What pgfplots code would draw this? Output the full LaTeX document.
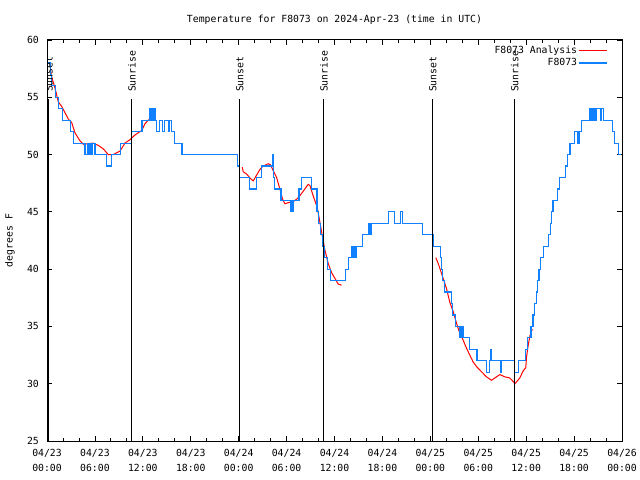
\documentclass[border=0pt]{standalone}
\usepackage{pgfplots}
\pgfplotsset{compat=1.18}
\usepackage{fontspec}
\setmainfont{DejaVu Sans Mono}
\definecolor{obsblue}{RGB}{16,128,255}
\definecolor{anared}{RGB}{255,0,0}
\begin{document}
\begin{tikzpicture}[font=\fontsize{9.8bp}{11bp}\selectfont]
\path[use as bounding box] (-47bp,-39bp) rectangle (593bp,441bp);
\begin{axis}[
  at={(0,0)}, anchor=south west, scale only axis,
  width=575bp, height=401bp,
  xmin=0, xmax=72, ymin=25, ymax=60,
  xtick={0,6,...,72}, minor x tick num=2,
  xticklabels={{04/23\\00:00},{04/23\\06:00},{04/23\\12:00},{04/23\\18:00},{04/24\\00:00},{04/24\\06:00},{04/24\\12:00},{04/24\\18:00},{04/25\\00:00},{04/25\\06:00},{04/25\\12:00},{04/25\\18:00},{04/26\\00:00}},
  ytick={25,30,...,60},
  /pgf/number format/assume math mode=true,
  axis line style={line width=1bp},
  major tick length=5bp, minor tick length=3bp,
  tick style={black, line width=0.8bp},
  xticklabel style={align=center, font=\fontsize{9.8bp}{15bp}\selectfont, inner sep=0pt, yshift=-8bp},
  yticklabel style={inner sep=0pt, xshift=-8bp},
  ylabel={degrees F},
  every axis y label/.style={at={(axis description cs:-0.0643,0.5)}, rotate=90, anchor=center},
  title={Temperature for F8073 on 2024-Apr-23 (time in UTC)},
  title style={at={(axis description cs:0.5,1)}, anchor=south, inner sep=0pt, yshift=9bp},
  legend style={at={(axis description cs:1,1)}, anchor=north east, xshift=-14bp, yshift=-4bp, draw=none, fill=none, inner sep=0pt, row sep=1bp, nodes={inner sep=1.5bp}},
  legend cell align=right, legend plot pos=right,
  legend image code/.code={\draw[#1] (0bp,0bp) -- (28bp,0bp);},
  unbounded coords=jump,
]
% Analysis (red)
\addplot[anared, line width=1bp] table {
x y
0.45 57.3
0.58 56.8
1.0 55.8
1.42 54.6
1.84 54.2
2.67 53.1
3.09 52.8
3.5 51.9
4.13 51.2
4.55 50.9
5.8 51.0
6.42 50.8
7.05 50.5
7.67 50.0
8.3 50.0
9.14 50.3
9.76 51.0
10.39 51.3
11.0 51.7
11.85 52.1
12.27 52.7
12.68 53.0
12.9 53.1
18 nan
24.45 48.9
24.57 48.5
24.99 48.3
25.49 47.9
25.82 47.7
26.24 48.2
26.66 48.7
27.07 49.0
27.70 49.2
28.0 49.1
28.32 48.6
28.75 48.0
29.16 47.0
29.5 46.1
29.79 45.7
30.2 45.8
30.83 45.9
31.25 46.1
31.66 46.4
32.08 46.8
32.7 47.4
32.92 47.3
33.33 46.4
33.83 45.4
34.17 44.1
34.5 42.8
34.79 41.7
35.21 40.5
35.63 39.7
36.05 39.2
36.46 38.7
36.88 38.6
42 nan
48.69 41.0
48.98 40.5
49.27 39.9
49.6 39.2
50.03 38.3
50.44 37.1
50.86 36.3
51.27 35.3
51.69 34.4
52.11 33.8
52.53 33.1
52.94 32.5
53.36 31.9
53.78 31.5
54.19 31.2
54.61 30.9
55.03 30.6
55.66 30.3
56.07 30.5
56.7 30.8
57.32 30.6
57.95 30.5
58.36 30.2
58.6 30.0
59.2 30.5
59.61 31.1
59.95 31.4
60.04 32.3
60.24 33.3
60.45 34.1
60.66 34.7
60.86 34.7
};
\addlegendentry{F8073 Analysis}
% Observations (blue)
\addplot[obsblue, line width=1.2bp, const plot] table {
x y
0.15 58
0.40 57
0.55 56
1.10 55
1.40 54
1.90 53
2.95 52
3.30 51
4.75 50
5.05 51
5.25 50
5.38 51
5.59 50
5.72 51
6.0 50
7.45 49
8.1 50
9.25 51
10.55 52
11.9 53
12.9 54
13.05 53
13.15 54
13.35 53
13.45 54
13.6 53
13.7 52
14.1 53
14.5 52
14.7 53
15.2 52
15.35 53
15.55 52
15.95 51
16.9 50
23.85 49
24.1 48
25.4 47
26.2 48
26.9 49
28.25 50
28.4 48
28.5 47
29.3 46
30.5 45
30.6 46
30.7 45
30.8 46
31.55 47
31.85 48
33.1 47
33.8 45
33.95 44
34.2 43
34.45 42
34.75 41
35.1 40
35.5 39
37.35 40
37.8 41
38.2 42
38.35 41
38.5 42
38.6 41
38.8 42
39.5 43
40.3 44
40.45 43
40.6 44
42.8 45
43.5 44
44.3 45
44.55 44
47.0 43
48.4 42
49.25 41
49.4 40
49.55 39
49.75 38
50.6 37
50.75 36
51.2 35
51.7 34
51.85 35
51.95 34
52.05 35
52.2 34
52.9 33
53.75 32
53.85 33
53.9 32
55.0 31
55.4 32
55.6 33
55.7 32
56.75 31
56.9 32
58.5 31
59.0 32
59.95 33
60.2 34
60.6 35
60.85 36
61.05 37
61.25 38
61.45 39
61.6 40
61.75 41
62.2 42
62.8 43
63.0 44
63.15 45
63.35 46
63.95 47
64.15 48
64.9 49
65.15 50
65.4 51
65.5 50
65.6 51
66.1 52
66.5 51
66.7 52
66.9 53
68.0 54
68.15 53
68.3 54
68.45 53
68.6 54
68.75 53
68.85 54
69.3 53
69.45 54
69.7 53
70.85 52
71.1 51
71.55 50
71.85 50
};
\addlegendentry{F8073}
% Sunset / sunrise markers
\addplot[black, line width=1bp, forget plot] coordinates {(0.25,25) (0.25,54.85)};
\addplot[black, line width=1bp, forget plot] coordinates {(10.64,25) (10.64,54.85)};
\addplot[black, line width=1bp, forget plot] coordinates {(24.15,25) (24.15,54.85)};
\addplot[black, line width=1bp, forget plot] coordinates {(34.67,25) (34.67,54.85)};
\addplot[black, line width=1bp, forget plot] coordinates {(48.3,25) (48.3,54.85)};
\addplot[black, line width=1bp, forget plot] coordinates {(58.57,25) (58.57,54.85)};
\node[rotate=90, anchor=west, inner sep=0pt] at (axis cs:0.25,55.45) {Sunset};
\node[rotate=90, anchor=west, inner sep=0pt] at (axis cs:10.64,55.45) {Sunrise};
\node[rotate=90, anchor=west, inner sep=0pt] at (axis cs:24.15,55.45) {Sunset};
\node[rotate=90, anchor=west, inner sep=0pt] at (axis cs:34.67,55.45) {Sunrise};
\node[rotate=90, anchor=west, inner sep=0pt] at (axis cs:48.3,55.45) {Sunset};
\node[rotate=90, anchor=west, inner sep=0pt] at (axis cs:58.57,55.45) {Sunrise};
\end{axis}
\end{tikzpicture}
\end{document}
